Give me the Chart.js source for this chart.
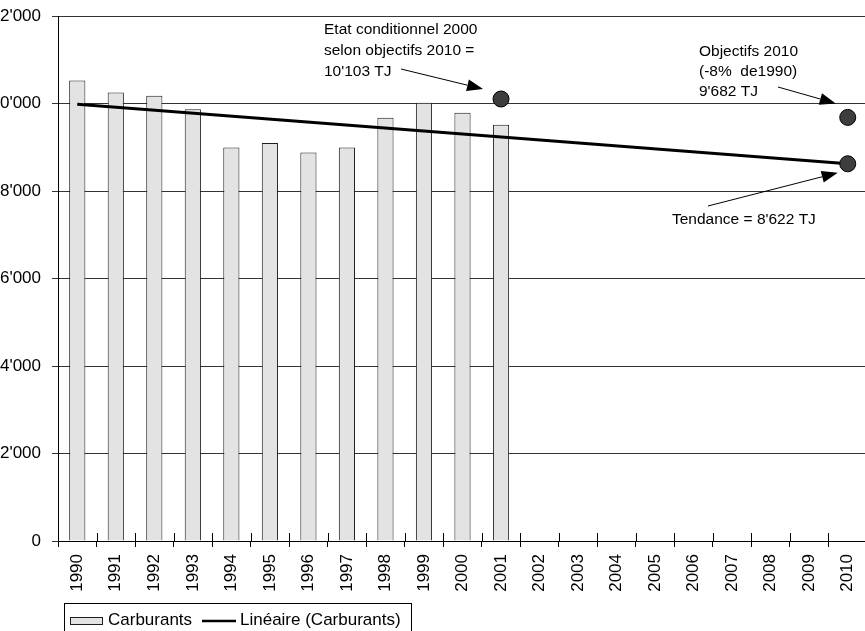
<!DOCTYPE html>
<html>
<head>
<meta charset="utf-8">
<script src="https://cdn.jsdelivr.net/npm/chart.js@4.4.1/dist/chart.umd.min.js"></script>
<style>
  html, body { margin: 0; padding: 0; background: #fff; overflow: hidden; width: 865px; height: 631px; }
  #wrap { position: absolute; left: -23px; top: 0; width: 890px; height: 631px; }
</style>
</head>
<body>
<div id="wrap"><canvas id="c" width="890" height="631"></canvas></div>
<script>
// Consommation de carburants (TJ), 1990-2001, avec tendance et objectifs 2010
const years = ['1990','1991','1992','1993','1994','1995','1996','1997','1998','1999','2000',
               '2001','2002','2003','2004','2005','2006','2007','2008','2009','2010'];
const carburants = [10524, 10252, 10176, 9870, 8993, 9100, 8879, 8993, 9673, 10016, 9787, 9512];
const trendYears = ['1990', '2010'];
const trendValues = [9985, 8622];
const etatYear = '2001';
const etatConditionnel = 10103;
const objectifYear = '2010';
const objectif2010 = 9682;
const tendance2010 = 8622;
const yTickValues = [0, 2000, 4000, 6000, 8000, 10000, 12000];

const FONT = "'Liberation Sans', Arial, Helvetica, sans-serif";
const SHIFT = 23; // the canvas starts this many pixels left of the page
Chart.defaults.font.family = FONT;
Chart.defaults.color = '#000';

function fmt(v) {
  return String(v).replace(/\B(?=(\d{3})+(?!\d))/g, "'");
}

// Marques de graduation traversant l'axe des abscisses
const crossTicks = {
  id: 'crossTicks',
  afterDraw(chart) {
    const xs = chart.scales.x;
    const ctx = chart.ctx;
    const step = xs.width / years.length;
    ctx.save();
    ctx.strokeStyle = '#000';
    ctx.lineWidth = 1;
    ctx.beginPath();
    for (let i = 0; i <= years.length; i++) {
      const x = Math.round(xs.left + i * step) + 0.5;
      ctx.moveTo(x, xs.top - 8);
      ctx.lineTo(x, xs.top);
    }
    ctx.stroke();
    ctx.restore();
  }
};

function arrow(ctx, x1, y1, x2, y2) {
  const ang = Math.atan2(y2 - y1, x2 - x1);
  const len = 16, half = 6;
  const bx = x2 - len * Math.cos(ang), by = y2 - len * Math.sin(ang);
  ctx.beginPath();
  ctx.moveTo(x1, y1);
  ctx.lineTo(bx, by);
  ctx.stroke();
  ctx.beginPath();
  ctx.moveTo(x2, y2);
  ctx.lineTo(bx + half * Math.sin(ang), by - half * Math.cos(ang));
  ctx.lineTo(bx - half * Math.sin(ang), by + half * Math.cos(ang));
  ctx.closePath();
  ctx.fill();
}

// Textes explicatifs et flèches vers les points
const notes = {
  id: 'notes',
  afterDraw(chart) {
    const ctx = chart.ctx;
    const xs = chart.scales.x, ys = chart.scales.y;
    const S = SHIFT;
    ctx.save();
    ctx.fillStyle = '#000';
    ctx.strokeStyle = '#000';
    ctx.lineWidth = 1;
    ctx.font = '15.5px ' + FONT;
    ctx.textAlign = 'left';
    ctx.textBaseline = 'middle';

    ['Etat conditionnel 2000', 'selon objectifs 2010 =', fmt(etatConditionnel) + ' TJ']
      .forEach((t, i) => ctx.fillText(t, 324 + S, 30 + i * 21));
    ['Objectifs 2010', '(-8%  de1990)', fmt(objectif2010) + ' TJ']
      .forEach((t, i) => ctx.fillText(t, 699 + S, 52 + i * 20));
    ctx.fillText('Tendance = ' + fmt(tendance2010) + ' TJ', 672 + S, 220);

    const ex = xs.getPixelForValue(years.indexOf(etatYear)), ey = ys.getPixelForValue(etatConditionnel);
    arrow(ctx, 401 + S, 69, ex - 18, ey - 10);
    const ox = xs.getPixelForValue(years.indexOf(objectifYear)), oy = ys.getPixelForValue(objectif2010);
    arrow(ctx, 778 + S, 87, ox - 12, oy - 14);
    const ty = ys.getPixelForValue(tendance2010);
    arrow(ctx, 708 + S, 206, ox - 10, ty + 9);
    ctx.restore();
  }
};

// Légende encadrée en bas à gauche
const boxLegend = {
  id: 'boxLegend',
  afterDraw(chart) {
    const ctx = chart.ctx;
    const S = SHIFT;
    const bar = chart.data.datasets[0], line = chart.data.datasets[1];
    ctx.save();
    ctx.strokeStyle = '#000';
    ctx.lineWidth = 1;
    ctx.strokeRect(64.5 + S, 603.5, 347, 40);
    ctx.fillStyle = bar.backgroundColor;
    ctx.fillRect(70.5 + S, 617.5, 32, 7);
    ctx.strokeStyle = bar.borderColor;
    ctx.strokeRect(70.5 + S, 617.5, 32, 7);
    ctx.strokeStyle = line.borderColor;
    ctx.lineWidth = 2.5;
    ctx.beginPath();
    ctx.moveTo(202 + S, 621);
    ctx.lineTo(236 + S, 621);
    ctx.stroke();
    ctx.fillStyle = '#000';
    ctx.font = '17px ' + FONT;
    ctx.textBaseline = 'middle';
    ctx.fillText(bar.label, 108 + S, 620);
    ctx.fillText(line.label, 240 + S, 620);
    ctx.restore();
  }
};

const dot = {
  type: 'line', showLine: false, pointRadius: 8, pointHoverRadius: 8,
  pointBackgroundColor: '#3d3d3d', pointBorderColor: '#000', pointBorderWidth: 1, order: 0
};

new Chart(document.getElementById('c'), {
  data: {
    labels: years,
    datasets: [
      {
        type: 'bar', label: 'Carburants', data: carburants,
        backgroundColor: '#e3e3e3', borderColor: '#1e1e1e', borderWidth: 1,
        barPercentage: 0.42, categoryPercentage: 1, order: 3
      },
      {
        type: 'line', label: 'Linéaire (Carburants)',
        data: trendYears.map((y, i) => ({ x: y, y: trendValues[i] })),
        borderColor: '#000', borderWidth: 3, pointRadius: 0, fill: false, order: 1
      },
      Object.assign({ label: 'Etat conditionnel 2000', data: [{ x: etatYear, y: etatConditionnel }] }, dot),
      Object.assign({ label: 'Objectifs 2010', data: [{ x: objectifYear, y: objectif2010 }] }, dot),
      Object.assign({ label: 'Tendance', data: [{ x: objectifYear, y: tendance2010 }] }, dot)
    ]
  },
  options: {
    responsive: false,
    animation: false,
    events: [],
    layout: { autoPadding: false, padding: { left: 0, right: 0, top: 16, bottom: 0 } },
    plugins: { legend: { display: false }, tooltip: { enabled: false } },
    scales: {
      x: {
        type: 'category',
        offset: true,
        grid: { offset: true, drawOnChartArea: false, drawTicks: true, tickLength: 6, color: '#000', lineWidth: 1 },
        border: { display: true, color: '#000', width: 1 },
        ticks: { font: { size: 17 }, color: '#000', minRotation: 90, maxRotation: 90, padding: 7, autoSkip: false },
        afterFit(s) { s.height = 90; s.paddingLeft = 0; s.paddingRight = 0; }
      },
      y: {
        min: 0, max: 12000,
        afterBuildTicks(s) { s.ticks = yTickValues.map(v => ({ value: v })); },
        grid: { color: '#333', lineWidth: 1, drawTicks: true, tickLength: 6 },
        border: { display: true, color: '#000', width: 1 },
        ticks: { font: { size: 17 }, color: '#000', padding: 11, callback: v => fmt(v) },
        afterFit(s) { s.width = 58 + SHIFT; s.paddingTop = 0; s.paddingBottom = 0; }
      }
    }
  },
  plugins: [crossTicks, notes, boxLegend]
});
</script>
</body>
</html>
